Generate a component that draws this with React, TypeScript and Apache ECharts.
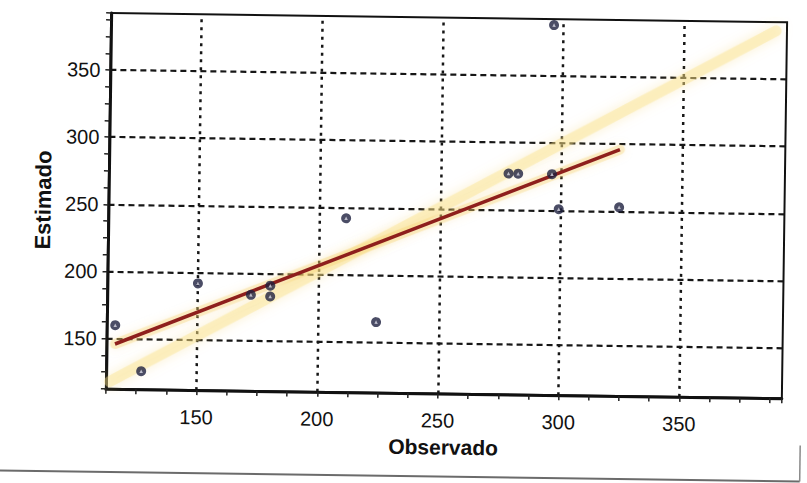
import React, { useEffect, useRef } from 'react';
import * as echarts from 'echarts';

// ---- data ----
const xTickLabels = [150, 200, 250, 300, 350];
const yTickLabels = [150, 200, 250, 300, 350];
const axisMin = 112.5;
const axisMax = 392.5;
const minorStep = 12.5;

const observado = [116, 127, 150, 172, 180, 180, 211, 224, 278, 282, 296, 299, 324, 296];
const estimado = [160, 126, 192, 184, 191, 183, 242, 165, 277, 277, 277, 251, 253, 388];

// fitted (red) line end points
const regObs = [116, 324];
const regEst = [146, 296];

// yellow highlighter band (roughly the 1:1 line)
const bandObs = [114, 388];
const bandEst = [118, 386];

const FONT = '"Liberation Sans", Arial, Helvetica, sans-serif';
const TEXT = '#111111';

export default function App() {
  const ref = useRef<HTMLDivElement>(null);

  useEffect(() => {
    if (!ref.current) return;
    const chart = echarts.init(ref.current, undefined, { renderer: 'svg' });

    const points = observado.map((x, i) => [x, estimado[i]]);
    const reg = regObs.map((x, i) => [x, regEst[i]]);
    const band = bandObs.map((x, i) => [x, bandEst[i]]);

    const vGrid = xTickLabels.map((v) => ({
      xAxis: v,
      lineStyle: { type: [3, 5] as any, width: 2.5, color: '#161616' },
    }));
    const hGrid = yTickLabels.map((v) => ({
      yAxis: v,
      lineStyle: { type: [6, 4] as any, width: 2.2, color: '#161616' },
    }));

    chart.setOption({
      animation: false,
      backgroundColor: '#ffffff',
      grid: {
        left: 108,
        top: 17,
        width: 676,
        height: 376,
        show: true,
        borderColor: '#111111',
        borderWidth: 2,
        backgroundColor: 'transparent',
      },
      xAxis: {
        type: 'value',
        min: axisMin,
        max: axisMax,
        interval: minorStep,
        name: 'Observado',
        nameLocation: 'middle',
        nameGap: 43,
        nameTextStyle: { fontFamily: FONT, fontWeight: 'bold', fontSize: 21, color: TEXT },
        axisLine: { show: true, onZero: false, lineStyle: { color: '#111', width: 3 } },
        axisTick: { show: true, length: 5, lineStyle: { color: '#222', width: 1.5 } },
        axisLabel: {
          margin: 17,
          fontFamily: FONT,
          fontSize: 20,
          color: TEXT,
          formatter: (v: number) => (xTickLabels.includes(v) ? String(v) : ''),
        },
        splitLine: { show: false },
      },
      yAxis: {
        type: 'value',
        min: axisMin,
        max: axisMax,
        interval: minorStep,
        name: 'Estimado',
        nameLocation: 'middle',
        nameGap: 54,
        nameTextStyle: { fontFamily: FONT, fontWeight: 'bold', fontSize: 22, color: TEXT },
        axisLine: { show: true, onZero: false, lineStyle: { color: '#111', width: 3 } },
        axisTick: { show: true, length: 5, lineStyle: { color: '#222', width: 1.5 } },
        axisLabel: {
          margin: 10,
          fontFamily: FONT,
          fontSize: 20,
          color: TEXT,
          formatter: (v: number) => (yTickLabels.includes(v) ? String(v) : ''),
        },
        splitLine: { show: false },
      },
      graphic: [
        {
          type: 'line',
          shape: { x1: 0, y1: 476, x2: 803, y2: 476 },
          style: { stroke: '#6b6b6b', lineWidth: 2 },
        },
        {
          type: 'line',
          shape: { x1: 803, y1: 440, x2: 803, y2: 476 },
          style: { stroke: '#8a8a8a', lineWidth: 1.5 },
        },
      ],
      series: [
        {
          type: 'line',
          data: band,
          symbol: 'none',
          silent: true,
          z: 1,
          lineStyle: {
            color: 'rgba(250, 226, 135, 0.42)',
            width: 11,
            cap: 'round',
            shadowBlur: 12,
            shadowColor: 'rgba(244, 205, 100, 0.7)',
          },
          markLine: {
            silent: true,
            symbol: ['none', 'none'],
            label: { show: false },
            z: 0,
            data: [...vGrid, ...hGrid],
          },
        },
        {
          type: 'line',
          data: reg,
          symbol: 'none',
          silent: true,
          z: 2,
          lineStyle: {
            color: 'rgba(246, 208, 110, 0.35)',
            width: 10,
            cap: 'round',
            shadowBlur: 8,
            shadowColor: 'rgba(240, 195, 85, 0.5)',
          },
        },
        {
          type: 'line',
          data: reg,
          symbol: 'none',
          silent: true,
          z: 3,
          lineStyle: { color: '#8e1f1c', width: 3.5 },
        },
        {
          type: 'scatter',
          data: points,
          symbol: 'circle',
          symbolSize: 10,
          z: 4,
          itemStyle: { color: '#1e2140' },
        },
        {
          type: 'scatter',
          data: points,
          symbol: 'triangle',
          symbolSize: 3.5,
          z: 5,
          silent: true,
          itemStyle: { color: '#d8d8e4' },
        },
      ],
    });

    return () => chart.dispose();
  }, []);

  return (
    <div
      style={{
        position: 'absolute',
        left: 0,
        top: 0,
        width: 807,
        height: 483,
        background: '#ffffff',
      }}
    >
      <div
        ref={ref}
        style={{
          width: 807,
          height: 483,
          transform: 'rotate(0.8deg)',
          transformOrigin: '50% 50%',
        }}
      />
    </div>
  );
}
